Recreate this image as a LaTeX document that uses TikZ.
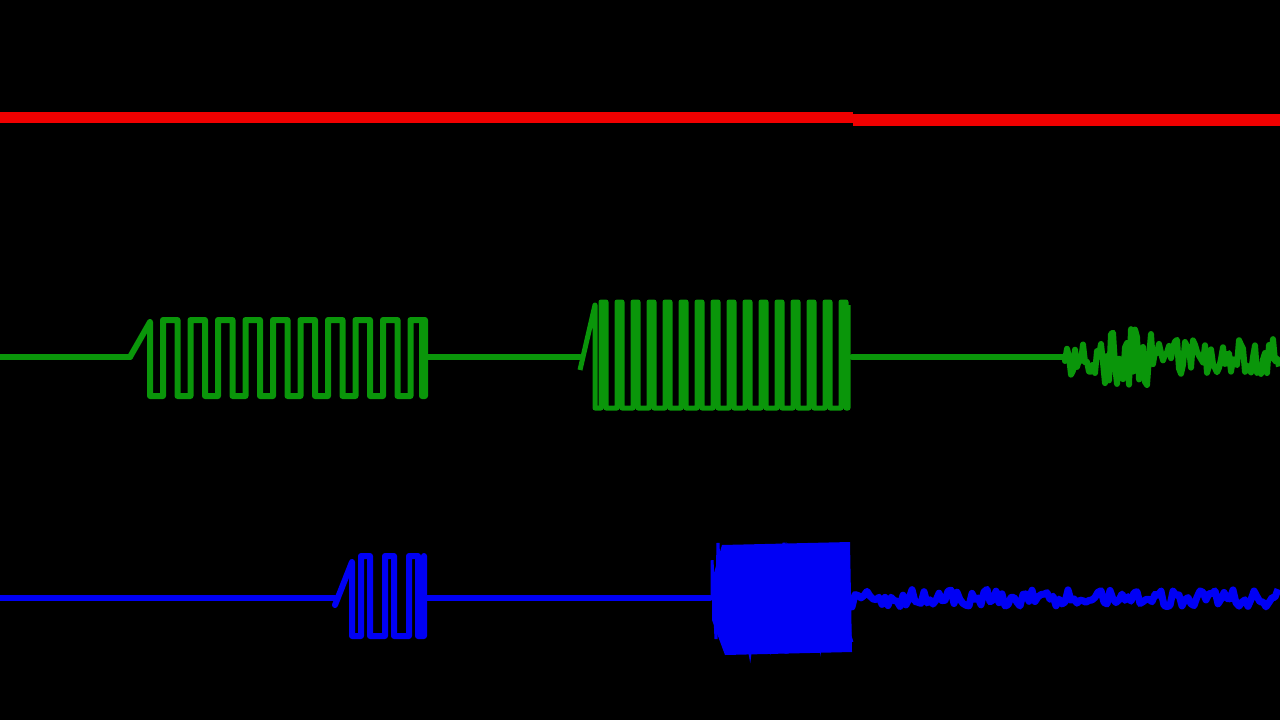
\documentclass[tikz,border=0pt]{standalone}
\tikzset{wave/.style={line width=6pt,line join=round,line cap=round}}
\definecolor{rd}{RGB}{240,0,0}
\definecolor{gr}{RGB}{10,150,10}
\definecolor{bl}{RGB}{0,0,245}
\begin{document}
\begin{tikzpicture}[x=1pt,y=-1pt]
\fill[black] (0,0) rectangle (1280,720);
\useasboundingbox (0,0) rectangle (1280,720);
\pgfmathsetseed{7}
% red
\fill[rd] (0,112) rectangle (853,123);
\fill[rd] (853,114) rectangle (1280,126);
% green
\draw[gr,wave] (0,357) -- (130,357);
\draw[gr,wave] (130,357) -- (150,322) -- (150,396)
  \foreach \i in {0,...,9}{ -- ({150+\i*27.5+13},396) -- ({150+\i*27.5+13},320) -- ({150+\i*27.5+27.5},320) -- ({150+\i*27.5+27.5},396)} -- (422,396) -- (422,320);
\draw[gr,wave] (425,357) -- (580,357);
\draw[gr,line width=5pt,line join=round] (580,370) -- (595,305) -- (595,408)
  \foreach \i in {0,...,15}{ -- ({595+\i*16+6},408) -- ({595+\i*16+6},302) -- ({595+\i*16+11},302) -- ({595+\i*16+11},408)} -- (848,408) -- (848,305);
\draw[gr,wave] (852,357) -- (1065,357);
\draw[gr,line width=6pt,line join=round] (1065,357) \foreach \i in {0,...,107}{ -- ({1065+\i*2},{357+(rand)*(\i<20?18:(\i<45?28:18))})};
% blue
\draw[bl,wave] (0,598) -- (335,598);
\draw[bl,wave] (335,605) -- (352,562) -- (352,636)
  \foreach \i in {0,...,2}{ -- ({352+\i*24+9},636) -- ({352+\i*24+9},556) -- ({352+\i*24+18},556) -- ({352+\i*24+18},636)} -- (424,636) -- (424,556);
\draw[bl,wave] (425,598) -- (710,598);
\fill[bl] (712,580) -- (722,545) -- (850,542) -- (852,652) -- (725,655) -- (712,620) -- cycle;
\draw[bl,line width=3pt] (712,598) \foreach \i in {0,...,70}{ -- ({712+\i*2},{598+(rand)*56})};
\draw[bl,line width=7pt,line join=round] (852,598) \foreach \i in {0,...,142}{ -- ({852+\i*3},{598+(rand)*9})};
\end{tikzpicture}
\end{document}
